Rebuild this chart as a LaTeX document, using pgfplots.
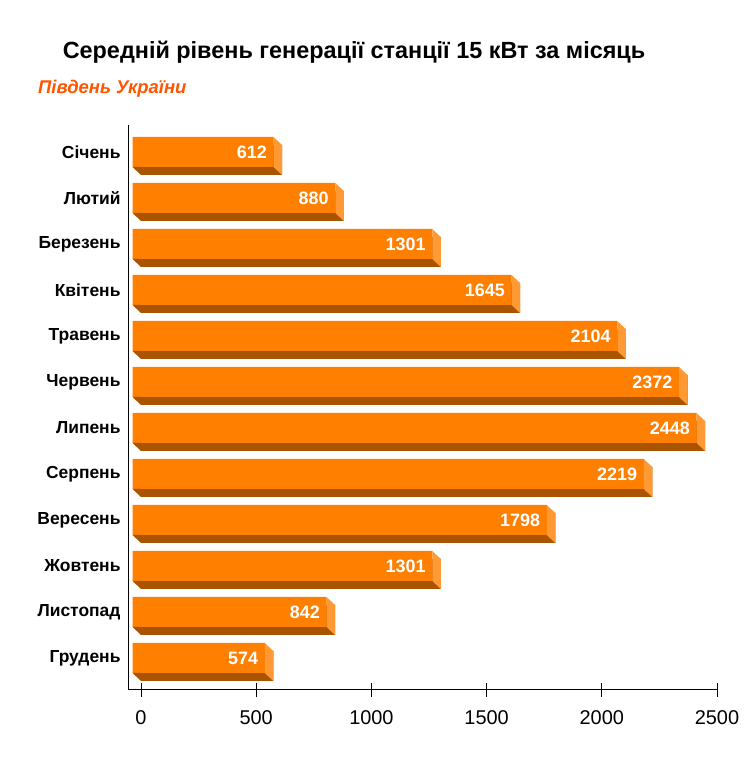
\documentclass[border=0pt]{standalone}
\usepackage{pgfplots}
\usepackage{pgfplotstable}
\pgfplotsset{compat=1.18}
\usepackage{fontspec}
\setmainfont{Liberation Sans}
\definecolor{barfront}{RGB}{255,127,0}
\definecolor{bardark}{RGB}{168,84,0}
\definecolor{barside}{RGB}{255,153,51}
\definecolor{subtitlec}{RGB}{255,85,0}

\pgfdeclareplotmark{sideface}{%
  \pgfpathmoveto{\pgfpoint{-8.5bp}{23bp}}%
  \pgfpathlineto{\pgfpoint{0bp}{15bp}}%
  \pgfpathlineto{\pgfpoint{0bp}{-15bp}}%
  \pgfpathlineto{\pgfpoint{-8.5bp}{-7bp}}%
  \pgfpathclose
  \pgfusepath{fill}}
\pgfdeclareplotmark{leftchamfer}{%
  \pgfpathmoveto{\pgfpoint{-8.5bp}{-7bp}}%
  \pgfpathlineto{\pgfpoint{0bp}{-15bp}}%
  \pgfpathlineto{\pgfpoint{0bp}{-7bp}}%
  \pgfpathclose
  \pgfusepath{fill}}

\pgfplotstableread{
k v
11 612
10 880
9 1301
8 1645
7 2104
6 2372
5 2448
4 2219
3 1798
2 1301
1 842
0 574
}\data

\begin{document}
\begin{tikzpicture}
\useasboundingbox (0,0) rectangle (755bp,771bp);
\node[anchor=base, inner sep=0, font=\bfseries\fontsize{23.5}{28}\selectfont] at (354bp,712bp) {Середній рівень генерації станції 15 кВт за місяць};
\node[anchor=base west, inner sep=0, font=\bfseries\itshape\fontsize{18.5}{22}\selectfont, text=subtitlec] at (38bp,677bp) {Південь України};
\begin{axis}[
  at={(128bp,81bp)}, anchor=south west,
  scale only axis, width=589bp, height=565bp,
  xmin=-56.5, xmax=2500, ymin=-0.522, ymax=11.761,
  axis x line*=bottom, axis y line*=left,
  axis line style={-, line width=1bp, black},
  xtick={0,500,1000,1500,2000,2500},
  ytick={0,...,11},
  yticklabels={Грудень,Листопад,Жовтень,Вересень,Серпень,Липень,Червень,Травень,Квітень,Березень,Лютий,Січень},
  tick align=center,
  major tick length=14bp,
  x tick style={line width=1bp, black},
  y tick style={draw=none},
  /pgf/number format/assume math mode=true,
  /pgf/number format/1000 sep={},
  xticklabel style={font=\fontsize{20}{24}\selectfont, yshift=-10bp},
  yticklabel style={font=\bfseries\fontsize{17.5}{21}\selectfont, yshift=8bp, xshift=3bp},
  clip=false,
  bar width=30bp,
]
\addplot[xbar, fill=bardark, draw=none] table[x=v,y=k]{\data};
\addplot[only marks, mark=sideface, mark options={fill=barside, draw=none}] table[x=v,y=k]{\data};
\addplot[only marks, mark=leftchamfer, mark options={fill=bardark, draw=none}] table[x expr=0,y=k]{\data};
\addplot[xbar, fill=barfront, draw=none, xshift=-8.5bp, yshift=8bp] table[x=v,y=k]{\data};
\addplot[draw=none, mark=none, nodes near coords, point meta=explicit symbolic,
  nodes near coords style={anchor=east, inner sep=0, text=white, font=\bfseries\fontsize{18}{21}\selectfont, xshift=-15bp, yshift=8bp}]
  table[x=v,y=k,meta=v]{\data};
\end{axis}
\end{tikzpicture}
\end{document}
